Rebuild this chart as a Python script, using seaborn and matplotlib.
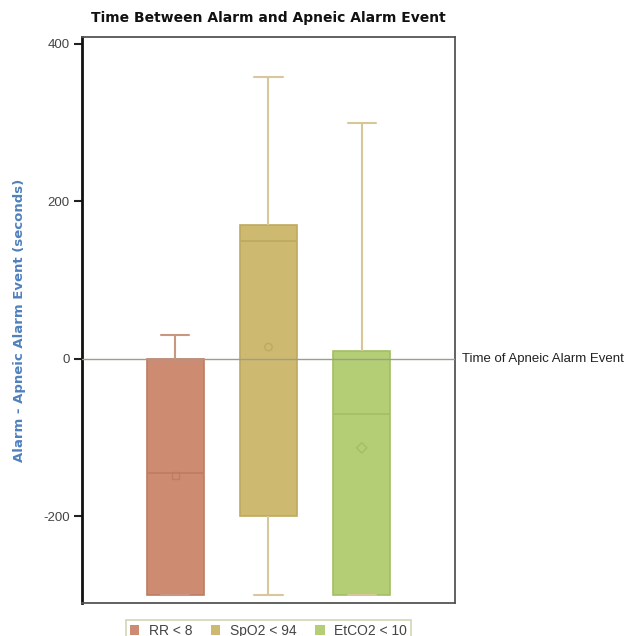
import numpy as np
import pandas as pd
import seaborn as sns
import matplotlib.pyplot as plt
from matplotlib.patches import Patch

sns.set_theme(style="white")
plt.rcParams['font.family'] = ['Liberation Sans', 'DejaVu Sans']
plt.rcParams['axes.unicode_minus'] = False

# five-number summaries: min, q1, median, q3, max
groups = ["RR < 8", "SpO2 < 94", "EtCO2 < 10"]
rr = [-300, -300, -145, 0, 30]
spo2 = [-300, -200, 150, 170, 358]
etco2 = [-300, -300, -70, 10, 300]
means = [-148, 15, -113]

fills = ["#CD8B72", "#CDB970", "#B3CE74"]
edges = ["#BF7C64", "#BFA95E", "#A3BE64"]
whisk = ["#C99680", "#D8C79C", "#D6C894"]
mean_markers = ["s", "o", "D"]

df = pd.DataFrame({
    "group": np.repeat(groups, 5),
    "value": rr + spo2 + etco2,
})

fig = plt.figure(figsize=(6.31, 6.36), dpi=100)
ax = fig.add_axes([0.130, 0.052, 0.591, 0.890])

for i, g in enumerate(groups):
    sns.boxplot(data=df[df["group"] == g], x="group", y="value", order=groups,
                color=fills[i], whis=(0, 100), width=0.61, showfliers=False,
                saturation=1, linewidth=1.2, ax=ax,
                boxprops=dict(facecolor=fills[i], edgecolor=edges[i]),
                medianprops=dict(color=edges[i], linewidth=1.2),
                whiskerprops=dict(color=whisk[i], linewidth=1.5),
                capprops=dict(color=whisk[i], linewidth=1.5))

mdf = pd.DataFrame({"group": groups, "mean": means})
for i, g in enumerate(groups):
    sns.scatterplot(data=mdf[mdf["group"] == g], x="group", y="mean",
                    marker=mean_markers[i], s=28, facecolor="none",
                    edgecolor=edges[i], linewidth=1, ax=ax, zorder=5)

ax.axhline(0, color="#9A9E8E", lw=1, zorder=4)
ax.text(1.02, 0, "Time of Apneic Alarm Event", transform=ax.get_yaxis_transform(),
        va="center", ha="left", fontsize=9.5, color="#222222", clip_on=False)

ax.set_xlim(-1.0, 3.0)
ax.set_ylim(-310, 409)
ax.set_yticks([-200, 0, 200, 400])
ax.set_xticks([])
ax.set_xlabel("")
ax.tick_params(axis="y", left=True, length=6, width=1.5, color="#222222",
               labelsize=9.5, labelcolor="#444444", pad=3)

ax.set_ylabel("Alarm - Apneic Alarm Event (seconds)", color="#4F81BD",
              fontsize=9.5, fontweight="bold", family=["DejaVu Sans"])
ax.yaxis.set_label_coords(-0.15, 0.5)
ax.set_title("Time Between Alarm and Apneic Alarm Event", fontsize=10,
             fontweight="bold", family=["DejaVu Sans"], color="#111111", pad=11)

for side in ["top", "right", "bottom"]:
    ax.spines[side].set_color("#555555")
    ax.spines[side].set_linewidth(1.3)
ax.spines["left"].set_color("#111111")
ax.spines["left"].set_linewidth(2)

handles = [Patch(facecolor=fills[i], edgecolor="none", label=g) for i, g in enumerate(groups)]
leg = ax.legend(handles=handles, loc="upper center", bbox_to_anchor=(0.5, -0.018),
                ncol=3, frameon=True, fontsize=10, handlelength=0.7, handleheight=0.7,
                handletextpad=0.7, columnspacing=1.3, borderpad=0.25, fancybox=False)
leg.get_frame().set_edgecolor("#C6CBA6")
leg.get_frame().set_linewidth(1.2)
for t in leg.get_texts():
    t.set_color("#444444")

fig.savefig("out.png", dpi=100)
